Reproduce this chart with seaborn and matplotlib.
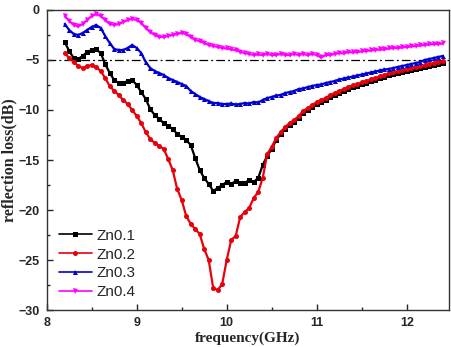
import numpy as np
import pandas as pd
import matplotlib
matplotlib.use("Agg")
import matplotlib.pyplot as plt
import seaborn as sns
from matplotlib.ticker import MultipleLocator

freq = np.round(np.linspace(8.2, 12.4, 85), 2)

zn01 = [-3.2, -4.1, -4.8, -4.9, -4.6, -4.2, -4.0, -3.95, -4.3, -5.4,
        -6.3, -7.0, -7.3, -7.3, -7.1, -7.0, -7.5, -8.2, -8.9, -9.9,
        -10.5, -10.9, -11.3, -11.6, -11.9, -12.4, -12.7, -13.0, -13.5, -14.8,
        -16.0, -16.8, -17.4, -18.1, -17.8, -17.5, -17.2, -17.4, -17.1, -17.3,
        -17.3, -17.0, -17.2, -16.8, -15.5, -14.6, -13.9, -13.0, -12.4, -11.9,
        -11.5, -11.2, -10.8, -10.3, -10.0, -9.7, -9.4, -9.2, -9.0, -8.7,
        -8.5, -8.3, -8.1, -7.9, -7.75, -7.6, -7.45, -7.3, -7.15, -7.0,
        -6.85, -6.7, -6.55, -6.45, -6.35, -6.25, -6.1, -6.0, -5.9, -5.8,
        -5.7, -5.6, -5.5, -5.45, -5.35]

zn02 = [-4.3, -4.8, -5.2, -5.6, -5.8, -5.6, -5.5, -5.7, -6.1, -6.8,
        -7.6, -8.1, -8.5, -9.0, -9.4, -10.0, -10.6, -11.3, -12.2, -12.9,
        -13.3, -13.6, -13.9, -14.9, -16.0, -17.9, -19.0, -20.6, -21.4, -21.9,
        -22.4, -23.9, -25.0, -27.8, -28.0, -27.4, -25.0, -23.0, -22.6, -20.7,
        -20.2, -19.8, -18.8, -18.2, -16.8, -14.4, -13.7, -12.8, -12.2, -11.7,
        -11.3, -11.0, -10.6, -10.1, -9.8, -9.5, -9.2, -9.0, -8.8, -8.5,
        -8.3, -8.1, -7.9, -7.7, -7.55, -7.4, -7.25, -7.1, -6.95, -6.8,
        -6.65, -6.5, -6.35, -6.25, -6.15, -6.05, -5.9, -5.8, -5.7, -5.6,
        -5.5, -5.4, -5.3, -5.25, -5.15]

zn03 = [-1.4, -2.0, -2.4, -2.5, -2.3, -2.0, -1.7, -1.5, -1.8, -2.6,
        -3.3, -3.9, -4.0, -4.0, -3.8, -3.5, -3.8, -4.3, -5.2, -5.8,
        -6.1, -6.3, -6.5, -6.8, -7.0, -7.2, -7.4, -7.6, -8.1, -8.4,
        -8.7, -8.9, -9.1, -9.3, -9.3, -9.4, -9.4, -9.35, -9.45, -9.4,
        -9.3, -9.35, -9.2, -9.25, -9.0, -8.8, -8.7, -8.55, -8.5, -8.3,
        -8.2, -8.1, -7.9, -7.85, -7.7, -7.6, -7.5, -7.45, -7.3, -7.2,
        -7.1, -6.95, -6.85, -6.75, -6.65, -6.55, -6.45, -6.35, -6.25, -6.15,
        -6.05, -5.95, -5.9, -5.8, -5.7, -5.6, -5.5, -5.4, -5.3, -5.2,
        -5.0, -4.9, -4.8, -4.7, -4.6]

zn04 = [-0.6, -1.1, -1.5, -1.65, -1.4, -1.0, -0.6, -0.4, -0.6, -1.0,
        -1.4, -1.5, -1.4, -1.2, -1.0, -0.9, -1.0, -1.3, -1.8, -2.2,
        -2.5, -2.7, -2.7, -2.6, -2.5, -2.4, -2.3, -2.4, -2.7, -3.0,
        -3.1, -3.3, -3.5, -3.6, -3.7, -3.8, -3.85, -3.95, -4.0, -4.2,
        -4.3, -4.4, -4.5, -4.45, -4.5, -4.4, -4.5, -4.5, -4.4, -4.5,
        -4.5, -4.4, -4.5, -4.4, -4.5, -4.4, -4.5, -4.75, -4.5, -4.5,
        -4.4, -4.3, -4.35, -4.2, -4.25, -4.2, -4.15, -4.1, -4.05, -4.0,
        -3.95, -3.95, -3.85, -3.8, -3.8, -3.75, -3.7, -3.65, -3.6, -3.55,
        -3.5, -3.45, -3.4, -3.4, -3.35]

labels = ["Zn0.1", "Zn0.2", "Zn0.3", "Zn0.4"]
series = [zn01, zn02, zn03, zn04]
colors = ["#000000", "#e8000b", "#0000d0", "#ff00ff"]
markers = ["s", "o", "^", "v"]

sns.set_style("ticks")
plt.rcParams['font.family'] = ['Liberation Sans', 'DejaVu Sans']

fig = plt.figure(figsize=(4.51, 3.47), dpi=100)
ax = fig.add_axes([0.1035, 0.1066, 0.8921, 0.8646])

for lab, vals, c, m in zip(labels, series, colors, markers):
    df = pd.DataFrame({"f": freq, "rl": vals})
    sns.lineplot(data=df, x="f", y="rl", ax=ax, color=c, marker=m,
                 markersize=3.6, markeredgewidth=0, linewidth=1.6,
                 label=lab)

ax.axhline(-5, color="black", linestyle=(0, (7, 2.5, 1.5, 2.5)),
           linewidth=0.9, zorder=0)

ax.set_xlim(8, 12.47)
ax.set_ylim(-30, 0)
ax.xaxis.set_major_locator(MultipleLocator(1))
ax.xaxis.set_minor_locator(MultipleLocator(0.5))
ax.yaxis.set_major_locator(MultipleLocator(5))
ax.yaxis.set_minor_locator(MultipleLocator(2.5))
ax.tick_params(axis="both", which="major", direction="in", length=4, width=1,
               labelsize=9, pad=5)
ax.tick_params(axis="both", which="minor", direction="in", length=2.5, width=1)
for t in ax.get_xticklabels() + ax.get_yticklabels():
    t.set_fontweight("bold")
for s in ax.spines.values():
    s.set_linewidth(1.0)
    s.set_color("#333333")

ax.set_xlabel("frequency(GHz)", fontfamily="Liberation Serif",
              fontweight="bold", fontsize=11, labelpad=2)
ax.set_ylabel("reflection loss(dB)", fontfamily="Liberation Serif",
              fontweight="bold", fontsize=11.5, labelpad=1)

leg = ax.legend(loc="lower left", frameon=False, fontsize=11,
                handlelength=2.2, handletextpad=0.3, labelspacing=0.32,
                borderaxespad=0.3, bbox_to_anchor=(0.003, 0.0))
for h in leg.get_lines():
    h.set_linewidth(1.2)

fig.savefig("out.png", dpi=100)
